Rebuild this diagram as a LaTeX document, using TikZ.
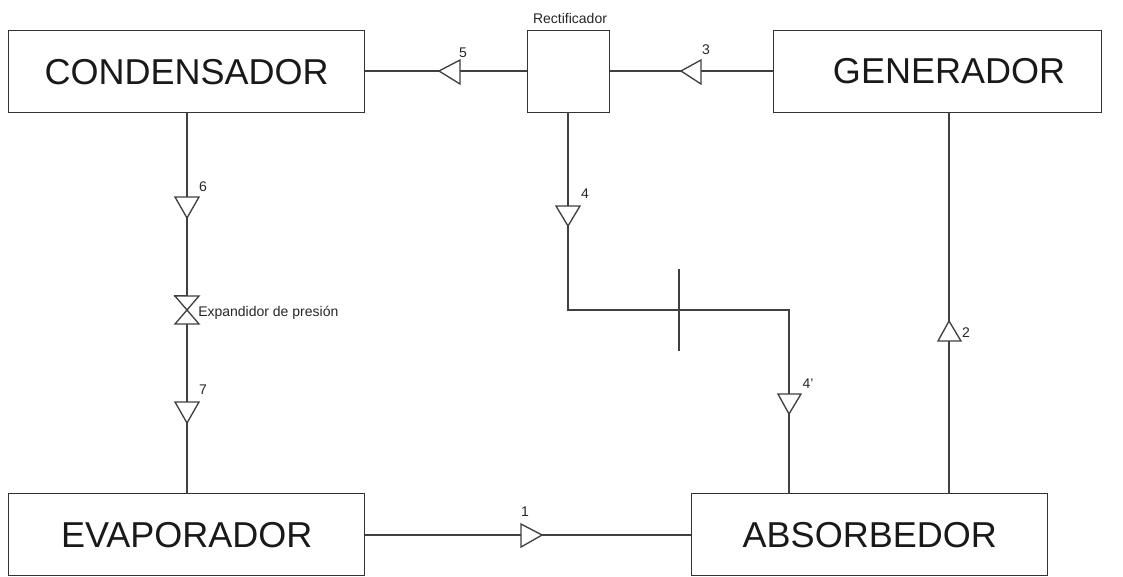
\documentclass[tikz,border=0pt]{standalone}
\usepackage{fontspec}
\setmainfont{Liberation Sans}
\tikzset{
  x=0.75pt,y=-0.75pt,
  unit/.style={draw=black!80,line width=1.1pt,fill=white,inner sep=0pt,minimum height=61.5pt,font=\fontsize{27}{30}\selectfont,text=black!90},
  flow/.style={draw=black!75,line width=1pt},
  head/.style={draw=black!75,line width=1pt,fill=white,line join=miter},
  tag/.style={inner sep=0pt,font=\fontsize{10.5}{12}\selectfont,text=black!85}
}
\begin{document}
\begin{tikzpicture}
\useasboundingbox (0,0) rectangle (1123,576);
\node[unit,minimum width=267pt,anchor=north west] (cond) at (8,30) {CONDENSADOR};
\node[unit,minimum width=246pt,anchor=north west] (gen) at (773,30) {};
\node[inner sep=0pt,font=\fontsize{27}{30}\selectfont,text=black!90] (gent) at (949,71) {GENERADOR};
\node[draw=black!80,line width=1.1pt,fill=white,minimum width=61.5pt,minimum height=61.5pt,inner sep=0pt,anchor=north west] (rect) at (527,30) {};
\node[unit,minimum width=267pt,anchor=north west] (evap) at (8,493) {EVAPORADOR};
\node[unit,minimum width=267pt,anchor=north west] (abs) at (691,493) {ABSORBEDOR};
\coordinate (c4a) at (568,310);
\coordinate (c4b) at (789,310);
\coordinate (t1) at (679,269);
\coordinate (t2) at (679,351);
\coordinate (v1) at (187,296);
\coordinate (v2) at (187,324);
\draw[flow] (gen.west |- 0,71) -- (rect.east |- 0,71);
\draw[flow] (rect.west |- 0,71) -- (cond.east |- 0,71);
\draw[flow] (cond.south -| v1) -- (v1);
\draw[flow] (v2) -- (evap.north -| v2);
\draw[flow] (568,112) -- (c4a) -- (c4b) -- (789,493);
\draw[flow] (t1) -- (t2);
\draw[flow] (949,493) -- (949,112);
\draw[flow] (evap.east |- 0,535) -- (abs.west |- 0,535);
\draw[head] (v1) -- (v1 -| 174,0) -- ++(0,0);
\path[head] (175,296) -- (199,296) -- (175,324) -- (199,324) -- cycle;
\path[head] (175,197) -- (199,197) -- (187,218) -- cycle;
\path[head] (175,402) -- (199,402) -- (187,423) -- cycle;
\path[head] (556,206) -- (580,206) -- (568,226) -- cycle;
\path[head] (778,394) -- (801,394) -- (789,414) -- cycle;
\path[head] (938,341) -- (961,341) -- (949,321) -- cycle;
\path[head] (460,60) -- (460,84) -- (439,71) -- cycle;
\path[head] (701,60) -- (701,84) -- (681,71) -- cycle;
\path[head] (521,524) -- (521,547) -- (542,535) -- cycle;
\node[tag] (l5) at (463,53) {5};
\node[tag] (l3) at (706,50) {3};
\node[tag] (l6) at (203,187) {6};
\node[tag] (l4) at (585,194) {4};
\node[tag] (l7) at (203,390) {7};
\node[tag] (l4p) at (808,384) {4'};
\node[tag] (l2) at (966,333) {2};
\node[tag] (l1) at (525,512) {1};
\node[tag] (lr) at (570,18) {Rectificador};
\node[tag,anchor=west] (lv) at (198,313) {Expandidor de presión};
\end{tikzpicture}
\end{document}
